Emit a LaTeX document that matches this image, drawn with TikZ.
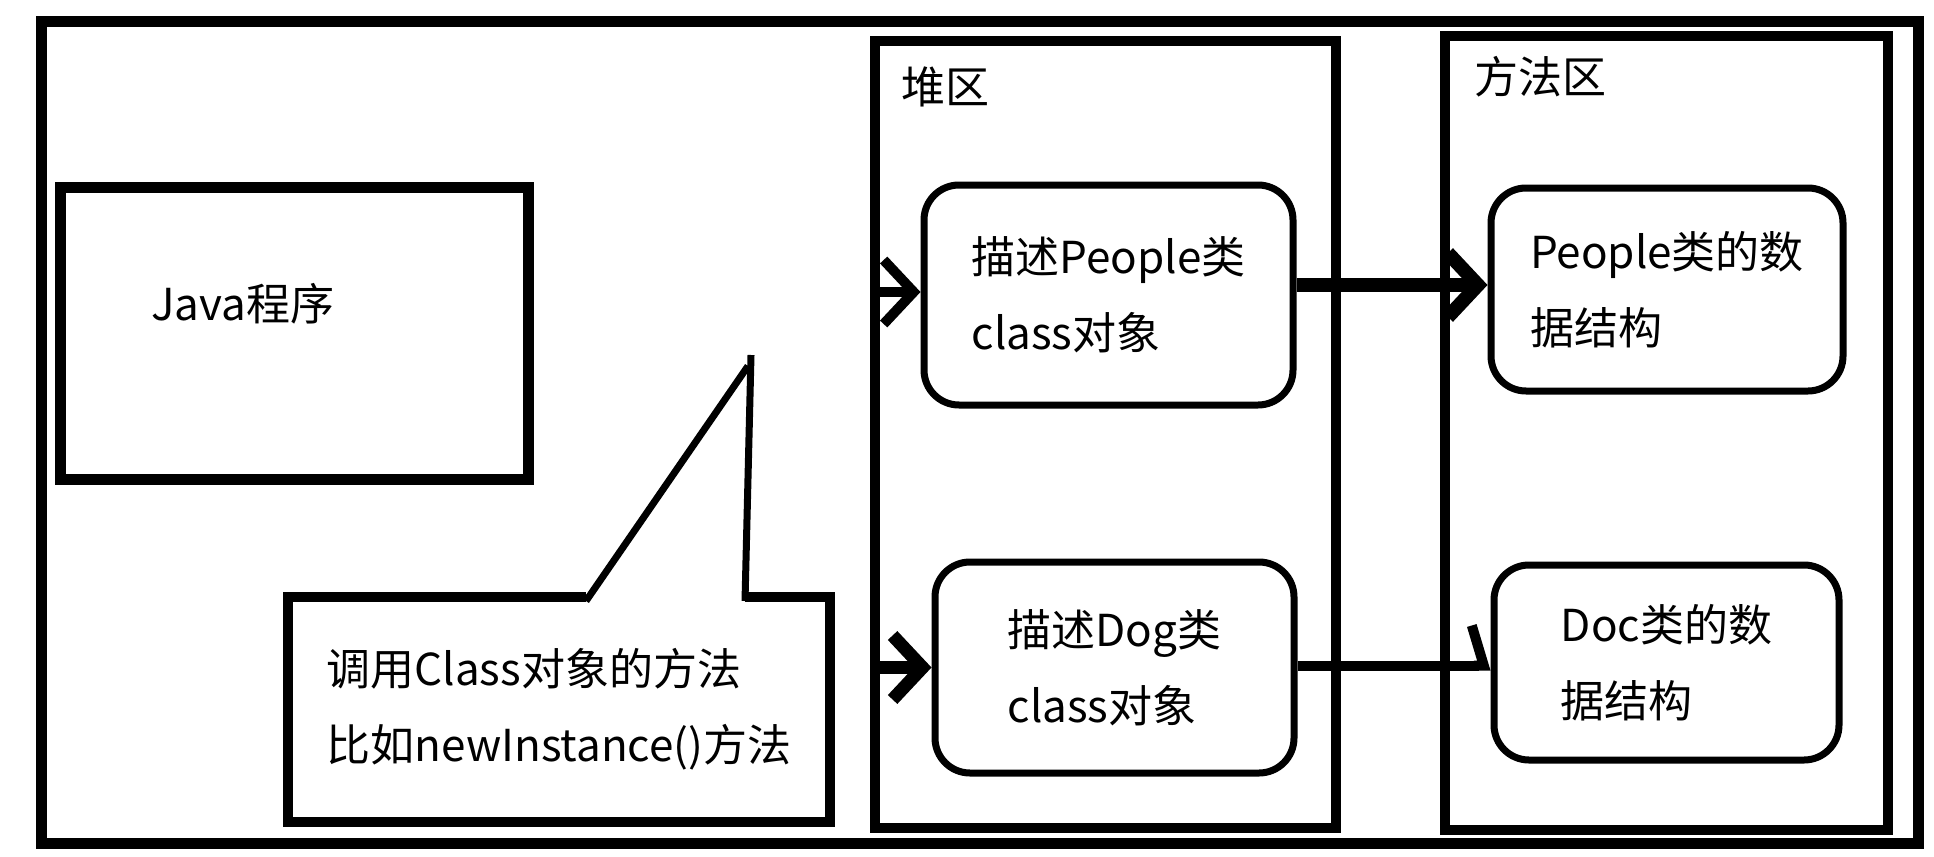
\documentclass[tikz,border=0pt]{standalone}
\usepackage{fontspec}
\newfontfamily\cjk{Noto Sans CJK SC}
\usetikzlibrary{arrows.meta}
\begin{document}
\begin{tikzpicture}[x=1pt,y=-1pt,
  region/.style={draw, line width=10pt, rectangle, inner sep=0pt},
  rbox/.style={draw, line width=7pt, rounded corners=35pt, align=left, inner sep=0pt},
  txt/.style={font=\cjk\fontsize{44}{76}\selectfont, text=black},
  arr/.style={line width=#1, -{Straight Barb[length=30pt, width=64pt]}},
  harp/.style={line width=#1, -{Straight Barb[left, length=12pt, width=80pt]}},
  leg/.style={line width=7pt, line cap=butt}
]
\useasboundingbox (0,0) rectangle (1934,856);
\fill[white] (0,0) rectangle (1934,856);

% outer frame
\node[region, line width=11pt, minimum width=1877pt, minimum height=821pt] (frame) at (979.5,432.5) {};

% Java program box
\node[region, line width=11pt, minimum width=468pt, minimum height=292pt] (java) at (294,333) {};
\node[txt, anchor=west, inner sep=0pt] (javatxt) at (151,304) {Java程序};

% heap region
\node[region, minimum width=461pt, minimum height=787pt] (hz) at (1105.5,434.5) {};
\node[txt, anchor=west, inner sep=0pt] (hzlbl) at (901,87) {堆区};

% method area
\node[region, minimum width=443pt, minimum height=794pt] (mz) at (1666.5,433) {};
\node[txt, anchor=west, inner sep=0pt] (mzlbl) at (1474,77) {方法区};

% rounded boxes
\node[rbox, txt, minimum width=369pt, minimum height=220pt] (hp) at (1108.5,295) {描述People类\\class对象};
\node[rbox, txt, minimum width=359pt, minimum height=211pt] (dg) at (1114.5,667.5) {描述Dog类\\class对象};
\node[rbox, txt, minimum width=352pt, minimum height=203pt] (pd) at (1667,289.5) {People类的数\\据结构};
\node[rbox, txt, minimum width=345pt, minimum height=195pt] (dd) at (1666.5,662.5) {Doc类的数\\据结构};

% callout
\node[txt, align=left, inner sep=0pt, minimum width=542pt, minimum height=225pt] (call) at (559,709.5) {调用Class对象的方法\\比如newInstance()方法};
\draw[line width=10pt, line join=miter] (586,597) -- (288,597) -- (288,822) -- (830,822) -- (830,597) -- (745,597);
\coordinate (tip) at (751,355);
\draw[leg] (586,601) -- (748,366);
\draw[leg] (745,601) -- (tip);

% arrows
\draw[arr=10pt] ([yshift=3pt]hp.west -| hz.west) -- ([yshift=3pt]hp.west);
\draw[arr=14pt] ([yshift=10pt]hp.east) -- ([yshift=10pt]hp.east -| pd.west);
\draw[arr=13pt] (dg.west -| hz.west) -- (dg.west);
\draw[harp=10pt] ([yshift=2pt]dg.east) -- ([yshift=2pt]dg.east -| dd.west);
\end{tikzpicture}
\end{document}
